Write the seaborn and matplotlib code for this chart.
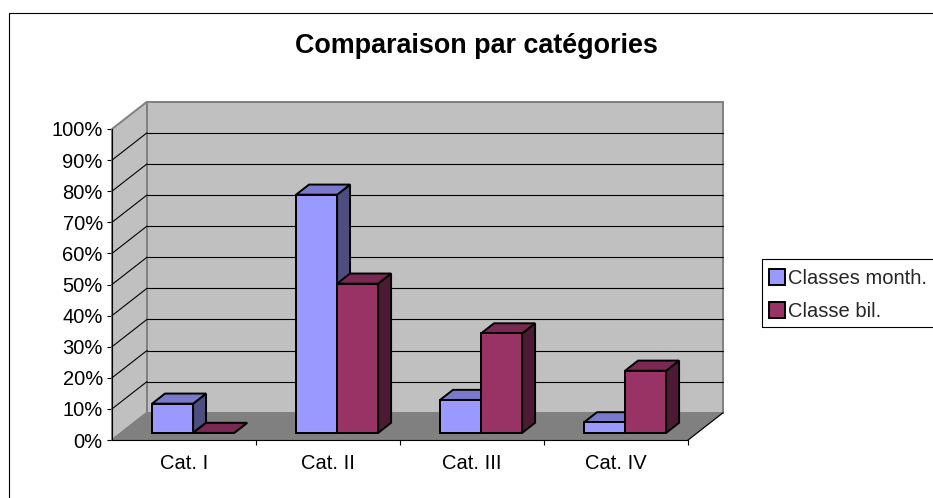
import matplotlib
matplotlib.use("Agg")
import matplotlib.pyplot as plt
from matplotlib.patches import Polygon, Rectangle, Patch
from matplotlib.transforms import Affine2D
import matplotlib.ticker as mticker
import numpy as np
import pandas as pd
import seaborn as sns

# ---- data -------------------------------------------------------------
categories = ["Cat. I", "Cat. II", "Cat. III", "Cat. IV"]
series_names = ["Classes month.", "Classe bil."]
classes_month = [9.4, 76.6, 10.6, 3.4]
classe_bil = [0.0, 48.0, 32.0, 20.0]
y_ticks = list(range(0, 101, 10))
title = "Comparaison par catégories"

front_colors = ["#9999FF", "#993366"]

df = pd.DataFrame({
    "cat": categories * 2,
    "serie": [series_names[0]] * len(categories) + [series_names[1]] * len(categories),
    "val": classes_month + classe_bil,
})

# ---- figure -----------------------------------------------------------
sns.set_theme(style="white")
plt.rcParams["font.family"] = ["Liberation Sans", "DejaVu Sans"]

W, H = 933, 498
fig = plt.figure(figsize=(W / 100, H / 100), dpi=100, facecolor="white")

# front plane of the 3-D box (pixels)
x_left, x_right = 112, 688
y_base, y_top = 440, 129
ax = fig.add_axes([x_left / W, 1 - y_base / H, (x_right - x_left) / W, (y_base - y_top) / H])
ax.set_facecolor("none")

# depth of the box expressed in data units
DX, DY = 35 / 144, 27.3 / 3.11
# bars sit slightly behind the front plane and have their own depth
OFF = 0.26
BDEPTH = 0.37

sns.barplot(data=df, x="cat", y="val", hue="serie", palette=front_colors,
            width=0.57, saturation=1, errorbar=None, edgecolor="black",
            linewidth=1.4, legend=False, ax=ax)
bars = [p for p in ax.patches if isinstance(p, Rectangle)]

ax.set_xlim(-0.5, 3.5)
ax.set_ylim(0, 100)

# ---- walls and floor ----------------------------------------------------
wall_c, floor_c, edge_c = "#C0C0C0", "#808080", "#808080"
xl, xr = -0.5, 3.5
side = Polygon([(xl, 0), (xl + DX, DY), (xl + DX, 100 + DY), (xl, 100)],
               closed=True, fc=wall_c, ec=edge_c, lw=1.4, zorder=1, clip_on=False)
back = Polygon([(xl + DX, DY), (xr + DX, DY), (xr + DX, 100 + DY), (xl + DX, 100 + DY)],
               closed=True, fc=wall_c, ec=edge_c, lw=1.4, zorder=1, clip_on=False)
floor = Polygon([(xl, 0), (xr, 0), (xr + DX, DY), (xl + DX, DY)],
                closed=True, fc=floor_c, ec=edge_c, lw=1.0, zorder=1.2, clip_on=False)
for poly in (side, back, floor):
    ax.add_patch(poly)

for v in y_ticks[1:-1]:
    ax.plot([xl + DX, xr + DX], [v + DY, v + DY], color="black", lw=0.8,
            zorder=1.5, clip_on=False)
    ax.plot([xl, xl + DX], [v, v + DY], color="black", lw=0.8,
            zorder=1.5, clip_on=False)
# right edge of the floor
ax.plot([xr, xr + DX], [0, DY], color="black", lw=0.8, zorder=1.6, clip_on=False)


# ---- 3-D bars -----------------------------------------------------------
def shade(hex_color, k):
    rgb = np.array(matplotlib.colors.to_rgb(hex_color)) * k
    return tuple(rgb)


ox, oy = OFF * DX, OFF * DY
bx, by = BDEPTH * DX, BDEPTH * DY
for i, p in enumerate(sorted(bars, key=lambda r: r.get_x())):
    x, w, h = p.get_x(), p.get_width(), p.get_height()
    fc = matplotlib.colors.to_hex(p.get_facecolor())
    z = 3 + i * 0.1
    p.set_transform(Affine2D().translate(ox, oy) + ax.transData)
    p.set_zorder(z + 0.05)
    p.set_clip_on(False)
    p.set_joinstyle("miter")
    xs, ys = x + ox, oy
    side_face = Polygon([(xs + w, ys), (xs + w + bx, ys + by), (xs + w + bx, ys + h + by), (xs + w, ys + h)],
                        closed=True, fc=shade(fc, 0.5), ec="black", lw=1.4, zorder=z,
                        clip_on=False, joinstyle="miter")
    top_face = Polygon([(xs, ys + h), (xs + w, ys + h), (xs + w + bx, ys + h + by), (xs + bx, ys + h + by)],
                       closed=True, fc=shade(fc, 0.8), ec="black", lw=1.4, zorder=z + 0.01,
                       clip_on=False, joinstyle="miter")
    ax.add_patch(side_face)
    ax.add_patch(top_face)

# ---- axes ---------------------------------------------------------------
for s in ("top", "right"):
    ax.spines[s].set_visible(False)
for s in ("left", "bottom"):
    ax.spines[s].set_color("black")
    ax.spines[s].set_linewidth(0.8)
    ax.spines[s].set_zorder(2)

ax.set_yticks(y_ticks)
ax.yaxis.set_major_formatter(mticker.FuncFormatter(lambda v, _: f"{v:.0f}%"))
ax.tick_params(axis="y", which="major", left=True, length=3.6, width=0.8,
               color="black", pad=3, labelsize=14.5, labelcolor="black")

ax.set_xticks([0.5, 1.5, 2.5, 3.5])
ax.set_xticklabels([])
ax.set_xticks([0, 1, 2, 3], minor=True)
ax.set_xticklabels(categories, minor=True)
ax.tick_params(axis="x", which="major", bottom=True, length=3.6, width=0.8, color="black")
ax.tick_params(axis="x", which="minor", bottom=True, length=0, pad=10,
               labelsize=14.5, labelcolor="black")
ax.set_xlabel("")
ax.set_ylabel("")
ax.grid(False)

# ---- title, legend, chart frame ------------------------------------------
fig.text(476.7 / W, 1 - 53 / H, title, ha="center", va="baseline",
         fontsize=19.4, fontweight="bold", color="black")

fig.patches.append(Rectangle((9 / W, -0.1), 1.2, 1 - 13 / H + 0.1, transform=fig.transFigure,
                             fill=False, ec="black", lw=0.8, zorder=0))
fig.patches.append(Rectangle((762 / W, 1 - 327 / H), 0.5, 68 / H, transform=fig.transFigure,
                             fill=False, ec="black", lw=0.8, zorder=0))

handles = [Patch(fc=c, ec="black", lw=1.4) for c in front_colors]
fig.legend(handles, series_names, loc="upper left", bbox_to_anchor=(769 / W, 1 - 269 / H),
           frameon=False, fontsize=14.5, handlelength=0.8, handleheight=0.8,
           handletextpad=0.15, labelspacing=0.7, borderpad=0, borderaxespad=0)

fig.savefig("out.png", dpi=100, facecolor="white")
